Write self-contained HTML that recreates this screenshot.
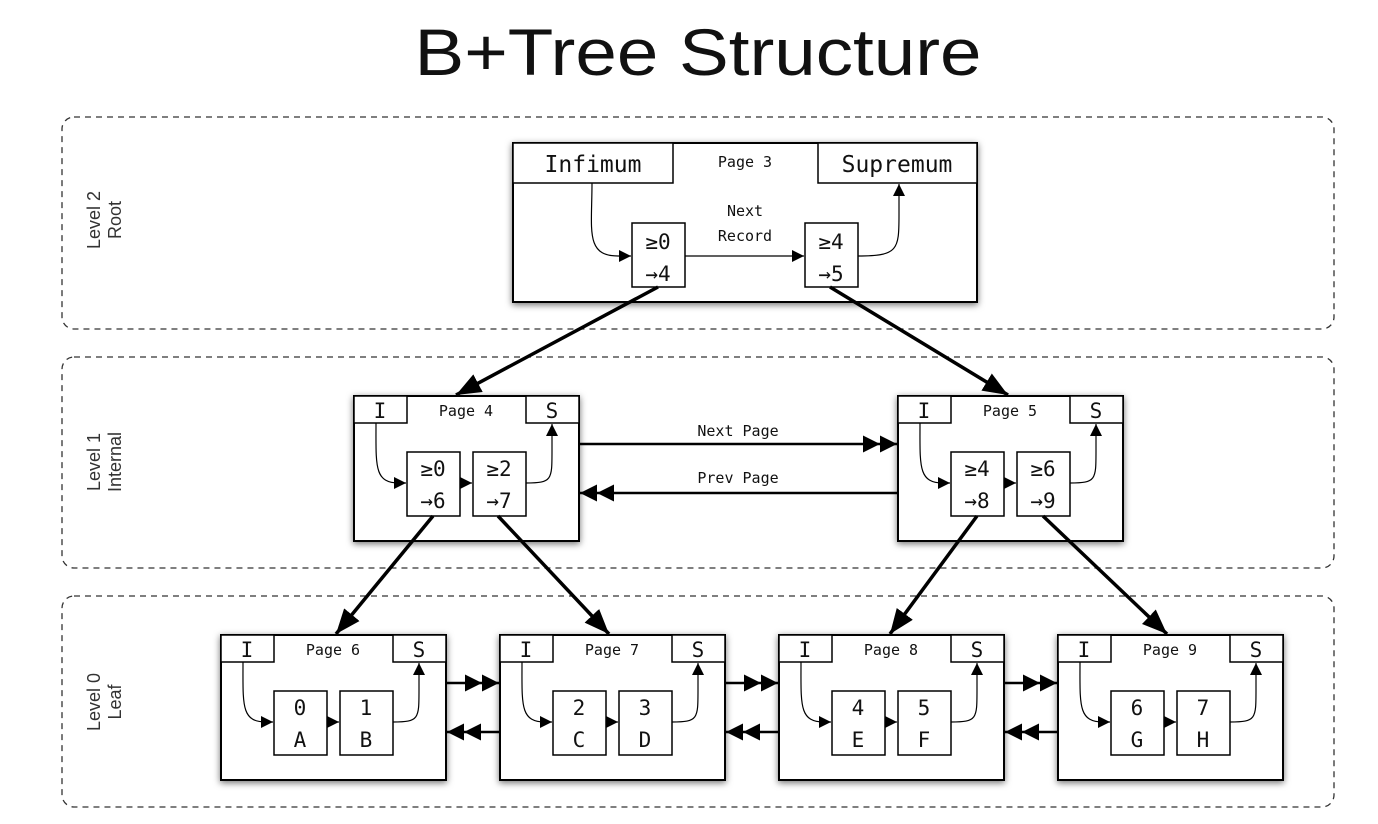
<!DOCTYPE html>
<html><head><meta charset="utf-8"><style>
html,body{margin:0;padding:0;background:#fff;}
svg{display:block;}
.m{font-family:"DejaVu Sans Mono","Liberation Mono",monospace;fill:#111;}
.s{font-family:"Liberation Sans",sans-serif;fill:#333;}
</style></head><body>
<svg width="1378" height="824" viewBox="0 0 1378 824" xmlns="http://www.w3.org/2000/svg">
<defs>
<filter id="sh" x="-10%" y="-10%" width="120%" height="130%">
<feDropShadow dx="0" dy="2" stdDeviation="3.5" flood-color="#000" flood-opacity="0.55"/>
</filter>
<marker id="a" viewBox="0 0 10 10" refX="10" refY="5" markerWidth="12" markerHeight="12" markerUnits="userSpaceOnUse" orient="auto"><path d="M0,0 L10,5 L0,10 z" fill="#000"/></marker>
<marker id="b" viewBox="0 0 10 10" refX="10" refY="5" markerWidth="25" markerHeight="25" markerUnits="userSpaceOnUse" orient="auto"><path d="M0,1 L10,5 L0,9 z" fill="#000"/></marker>
<marker id="d" viewBox="0 0 20 10" refX="20" refY="5" markerWidth="34" markerHeight="17" markerUnits="userSpaceOnUse" orient="auto"><path d="M0,0 L10,5 L0,10 z M10,0 L20,5 L10,10 z" fill="#000"/></marker>
<g id="pg">
<rect x="0" y="0" width="225" height="145" fill="#fff" stroke="#000" stroke-width="2" filter="url(#sh)"/>
<rect x="0" y="0" width="53" height="27" fill="#fff" stroke="#000" stroke-width="1.5"/>
<rect x="172" y="0" width="53" height="27" fill="#fff" stroke="#000" stroke-width="1.5"/>
<rect x="53" y="56" width="53" height="64" fill="#fff" stroke="#000" stroke-width="1.5"/>
<rect x="119" y="56" width="53" height="64" fill="#fff" stroke="#000" stroke-width="1.5"/>
<text x="26" y="22" class="m" font-size="21" text-anchor="middle">I</text>
<text x="198" y="22" class="m" font-size="21" text-anchor="middle">S</text>
<path d="M22,27 C22,70 20,87 45,87 L52,87" fill="none" stroke="#000" stroke-width="1.2" marker-end="url(#a)"/>
<path d="M106,87 L118,87" fill="none" stroke="#000" stroke-width="1.2" marker-end="url(#a)"/>
<path d="M172,87 C198,87 198,84 198,55 L198,28" fill="none" stroke="#000" stroke-width="1.2" marker-end="url(#a)"/>
</g>
</defs>

<text x="698" y="75" class="s" font-size="66" style="fill:#111" text-anchor="middle" textLength="567" lengthAdjust="spacingAndGlyphs">B+Tree Structure</text>

<g fill="none" stroke="#333" stroke-width="1.3" stroke-dasharray="6,5">
<rect x="62" y="117" width="1272" height="212" rx="12"/>
<rect x="62" y="357" width="1272" height="211" rx="12"/>
<rect x="62" y="596" width="1272" height="211" rx="12"/>
</g>
<g class="s" font-size="18" text-anchor="middle">
<text transform="translate(100,220) rotate(-90)">Level 2</text>
<text transform="translate(121,220) rotate(-90)">Root</text>
<text transform="translate(100,462) rotate(-90)">Level 1</text>
<text transform="translate(121,462) rotate(-90)">Internal</text>
<text transform="translate(100,702) rotate(-90)">Level 0</text>
<text transform="translate(121,702) rotate(-90)">Leaf</text>
</g>

<!-- Root page -->
<rect x="513" y="143" width="464" height="159" fill="#fff" stroke="#000" stroke-width="2" filter="url(#sh)"/>
<rect x="513" y="143" width="160" height="40" fill="#fff" stroke="#000" stroke-width="1.5"/>
<rect x="818" y="143" width="159" height="40" fill="#fff" stroke="#000" stroke-width="1.5"/>
<text x="593" y="172" class="m" font-size="23" text-anchor="middle">Infimum</text>
<text x="897" y="172" class="m" font-size="23" text-anchor="middle">Supremum</text>
<text x="745" y="167" class="m" font-size="15" text-anchor="middle">Page 3</text>
<rect x="632" y="223" width="53" height="64" fill="#fff" stroke="#000" stroke-width="1.5"/>
<rect x="805" y="223" width="53" height="64" fill="#fff" stroke="#000" stroke-width="1.5"/>
<text x="658" y="249" class="m" font-size="21" text-anchor="middle">≥0</text>
<text x="658" y="281" class="m" font-size="21" text-anchor="middle">→4</text>
<text x="831" y="249" class="m" font-size="21" text-anchor="middle">≥4</text>
<text x="831" y="281" class="m" font-size="21" text-anchor="middle">→5</text>
<text x="745" y="216" class="m" font-size="15" text-anchor="middle">Next</text>
<text x="745" y="241" class="m" font-size="15" text-anchor="middle">Record</text>
<path d="M592,183 C592,230 585,256 618,256 L631,256" fill="none" stroke="#000" stroke-width="1.2" marker-end="url(#a)"/>
<path d="M685,256 L804,256" fill="none" stroke="#000" stroke-width="1.2" marker-end="url(#a)"/>
<path d="M858,256 C898,256 899,250 899,215 L899,184" fill="none" stroke="#000" stroke-width="1.2" marker-end="url(#a)"/>

<!-- Internal pages -->
<use href="#pg" x="354" y="396"/>
<use href="#pg" x="898" y="396"/>
<g class="m" text-anchor="middle">
<text x="466" y="416" font-size="15">Page 4</text>
<text x="1010" y="416" font-size="15">Page 5</text>
<g font-size="21">
<text x="433" y="476">≥0</text><text x="433" y="508">→6</text>
<text x="499" y="476">≥2</text><text x="499" y="508">→7</text>
<text x="977" y="476">≥4</text><text x="977" y="508">→8</text>
<text x="1043" y="476">≥6</text><text x="1043" y="508">→9</text>
</g>
<text x="738" y="436" font-size="15">Next Page</text>
<text x="738" y="483" font-size="15">Prev Page</text>
</g>
<path d="M579,444 L897,444" stroke="#000" stroke-width="2.4" marker-end="url(#d)"/>
<path d="M897,493 L580,493" stroke="#000" stroke-width="2.4" marker-end="url(#d)"/>

<!-- Leaf pages -->
<use href="#pg" x="221" y="635"/>
<use href="#pg" x="500" y="635"/>
<use href="#pg" x="779" y="635"/>
<use href="#pg" x="1058" y="635"/>
<g class="m" text-anchor="middle">
<g font-size="15">
<text x="333" y="655">Page 6</text><text x="612" y="655">Page 7</text>
<text x="891" y="655">Page 8</text><text x="1170" y="655">Page 9</text>
</g>
<g font-size="21">
<text x="300" y="715">0</text><text x="300" y="747">A</text>
<text x="366" y="715">1</text><text x="366" y="747">B</text>
<text x="579" y="715">2</text><text x="579" y="747">C</text>
<text x="645" y="715">3</text><text x="645" y="747">D</text>
<text x="858" y="715">4</text><text x="858" y="747">E</text>
<text x="924" y="715">5</text><text x="924" y="747">F</text>
<text x="1137" y="715">6</text><text x="1137" y="747">G</text>
<text x="1203" y="715">7</text><text x="1203" y="747">H</text>
</g>
</g>
<g stroke="#000" stroke-width="2.4">
<path d="M446,683 L499,683" marker-end="url(#d)"/>
<path d="M499,732 L447,732" marker-end="url(#d)"/>
<path d="M725,683 L778,683" marker-end="url(#d)"/>
<path d="M778,732 L726,732" marker-end="url(#d)"/>
<path d="M1004,683 L1057,683" marker-end="url(#d)"/>
<path d="M1057,732 L1005,732" marker-end="url(#d)"/>
</g>

<!-- Tree pointer arrows -->
<g stroke="#000" stroke-width="3.5" fill="none">
<path d="M658,287 L456,395" marker-end="url(#b)"/>
<path d="M830,287 L1008,395" marker-end="url(#b)"/>
<path d="M433,516 L336,634" marker-end="url(#b)"/>
<path d="M498,516 L609,634" marker-end="url(#b)"/>
<path d="M977,516 L890,634" marker-end="url(#b)"/>
<path d="M1043,516 L1167,634" marker-end="url(#b)"/>
</g>
</svg>
</body></html>
